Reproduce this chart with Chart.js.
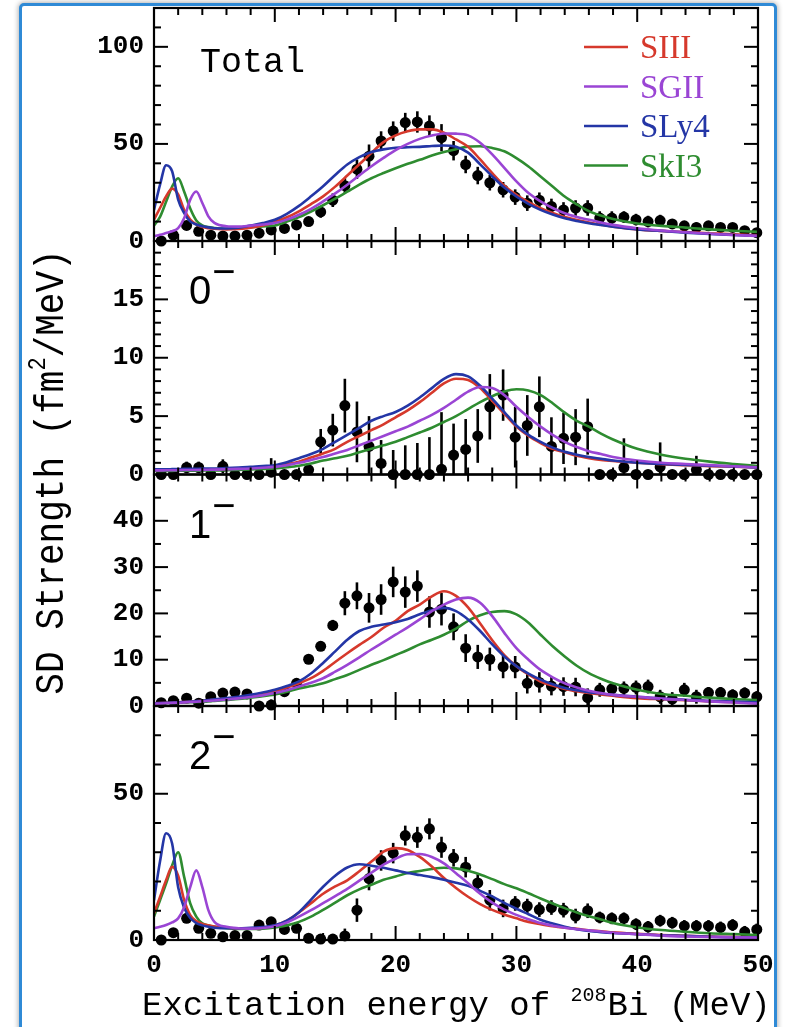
<!DOCTYPE html>
<html><head><meta charset="utf-8">
<script src="https://cdn.jsdelivr.net/npm/chart.js@4.4.1/dist/chart.umd.min.js"></script>
<style>
html,body{margin:0;padding:0;background:#fff;}
#wrap{position:relative;width:785px;height:1027px;overflow:hidden;}
#frame{position:absolute;left:19px;top:3px;width:752px;height:1100px;border:3px solid #2f8ad6;border-radius:5px;box-shadow:0 0 5px 1px rgba(0,0,0,0.3);background:#fff;}
#c{position:absolute;left:0;top:0;}
</style></head><body>
<div id="wrap"><div id="frame"></div><canvas id="c" width="785" height="1027"></canvas></div>
<script>
// ---------- data ----------
const seriesNames = ['SIII', 'SGII', 'SLy4', 'SkI3'];
const seriesColors = ['#d6392c', '#9a45d4', '#2436a6', '#2e8c30'];
const panelLabels = ['Total', '0', '1', '2'];

const xTickLabels = [0, 10, 20, 30, 40, 50];
const totalTickLabels = [0, 50, 100];
const jm0TickLabels = [0, 5, 10, 15];
const jm1TickLabels = [0, 10, 20, 30, 40];
const jm2TickLabels = [0, 50];

// experimental points (excitation energy, MeV)
const energy = [0.6,1.6,2.7,3.7,4.7,5.7,6.7,7.7,8.7,9.7,10.8,11.8,12.8,13.8,14.8,15.8,16.8,17.8,18.8,19.8,20.8,21.8,22.8,23.8,24.8,25.8,26.8,27.8,28.9,29.9,30.9,31.9,32.9,33.9,34.9,35.9,36.9,37.9,38.9,39.9,40.9,41.9,42.9,43.9,44.9,45.9,46.9,47.9,48.9,49.9];

const totalVal = [0,3,8,5,3,2.6,2.6,3,4,5.7, 6.5,8.3,10,15,21,28.5,37,43.7,51.5,56.6, 61,61.3,59.2,53.2,46.5,39.4,33.7,30,26.4,22.6, 19.5,21,17.8,16,17,17,11.8,11.8,12.3,11, 10,10.5,8.8,7.8,7,7.8,7,7,5.3,4.3];
const totalErr = [1,1,1.5,1.5,1.5,1.5,1.5,1.5,1.5,1.5, 1.5,1.5,2,3,3.5,4,5,6,5,5, 5,5.5,5.5,7,5,4.5,4.5,4,4,4, 4,4,4,4,4,4,3.5,3.5,3,3, 3,3,2.5,2.5,2.5,2.5,2,2,2,2];

const jm0Val = [0,0,0.6,0.6,0,0.7,0,0,0,0.2, 0,0,0.4,2.8,3.8,5.9,3.65,2.4,0.95,0, 0,0,0,0.44,1.66,2.15,3.3,5.8,6.8,3.2, 4.2,5.8,2.4,3.1,3.2,4.1,0,0,0.6,0, 0,0.65,0,0,0.4,0,0,0,0,0];
const jm0Err = [0.2,0.2,0.5,0.5,0.3,0.6,0.3,0.3,0.3,1.2, 0.3,0.3,0.5,1.1,1.4,2.3,2.6,2.6,2.0,2.1, 2.5,2.7,3.2,4.9,2.7,2.6,2.3,2.8,2.2,2.6, 2.6,2.6,2.5,2.2,2.4,2.4,0.3,0.3,2.5,0.3, 0.3,2.1,0.3,0.3,1.2,0.3,0.3,0.3,0.3,0.3];

const jm1Val = [0.7,1.15,1.7,0.6,2.0,2.8,3.0,2.6,0,0.2, 3.1,4.9,10.1,12.9,17.4,22.2,23.8,21.2,23,26.8, 24.6,25.9,20.3,20.9,17.1,12.5,10.6,10.1,8.5,8.4, 4.9,5.1,4.3,4.2,4.1,1.8,3.5,3.7,3.8,4.0, 4.2,2.0,1.5,3.5,2.0,2.9,2.9,2.4,2.8,2.0];
const jm1Err = [0.5,0.5,0.5,0.5,0.5,0.5,0.5,0.5,0.5,1.2, 0.6,0.8,1,1,1.2,2.6,2.9,3.2,3.3,3.3, 3.4,3.4,3.4,3.5,2.9,3.0,2.6,2.5,2.5,2.4, 2.2,2.2,2,2,2,2,1.5,1.5,1.5,1.5, 1.5,1.5,1.5,1.5,1.5,1.2,1.2,1.2,1.2,1.2];

const jm2Val = [0,2.5,7.4,4.0,2.3,1.1,1.5,1.5,5.1,6.2, 3.6,4.0,0.6,0.3,0.3,1.4,10.2,21,27.2,29.7, 35.7,35.1,38,31.7,28.1,24.9,19.5,13.6,10.8,12.5, 11.6,10.4,11.1,10.2,8.2,10,7.7,7.4,7.4,5.4, 4.5,6.6,5.9,4.8,4.8,4.8,4.3,5.1,2.8,3.6];
const jm2Err = [1,1,1.5,1,1,1,1,1,1,1, 1,1,1,1,1,2.5,4,4,3.5,3.5, 3.4,3.6,3.6,3.6,3,3.5,3,3.5,3,2.5, 2.5,2.5,2.5,2.5,2.5,2.5,2,2,2,2, 2,2,2,2,2,2,2,2,2,2];

// theory curves, sampled at curveE
const curveE = [0,0.5,1,1.5,2,2.5,3,3.5,4,4.5,5,6,7,8,9,10,11,12,13,14,15,16,17,18,19,20,21,22,23,24,25,26,27,28,29,30,31,32,33,34,35,36,37,38,40,42,44,46,48,50];

const totalSIII = [11,17,23,27,24,16,11,8.5,7.2,6.6,6.3, 6.0,6.2,6.8,8.0,9.8,12.2,15.3,19,23,28,33.7,39.5,45.4,50.9,54.4,56.5,57.5,57.5,55.8,52.3,48.5,42,35,28.5,23.8,20,16.9,14.4,12.3,10.8,9.5,8.4,7.4, 6.0,5.2,4.6,4.0,3.4,2.9];
const totalSGII = [2.4,3.2,4.1,5.0,6.6,11.8,21.3,25.5,19.6,12.7,9.3, 7.6,7.4,7.9,8.5,9.3,11,13.5,16.6,20.4,24.5,29.0,33.8,38.5,42.8,46.8,50,52.6,54.3,55.4,55.3,54.4,50.6,44.6,37.7,30.7,24.7,20.4,17,14.3,12.4,10.9,9.5,8.3, 6.6,5.4,4.5,3.7,3.1,2.6];
const totalSLy4 = [16,29,39,35.9,21.3,14.4,10.1,8.5,7.6,7.0,6.6, 6.4,6.8,8.0,9.2,10.9,14,18.1,23,28.2,34,39.4,43.2,45.8,47.2,48.0,48.3,48.5,48.9,49.2,48.5,45.5,39.5,33.3,27.5,22.9,19.1,16,13.6,11.7,10.3,9.1,8.2,7.4, 6.0,5.2,4.3,3.6,3.1,2.6];
const totalSkI3 = [8.0,12.4,20.2,28,32.3,25.4,16.7,10.6,8.0,7.2,6.7, 6.3,6.5,7.1,7.5,8.0,10,12.3,15.2,18.4,21.8,25.4,29,32.3,35,37.5,39.8,41.8,44,45.8,47.3,48.6,48.8,47.9,46.2,42.7,38.4,33.2,28.1,22.9,18.9,15.4,13.1,11.3, 9.0,7.8,6.9,6.0,5.3,4.7];

const jm0SIII = [0.4,0.4,0.41,0.41,0.42,0.42,0.43,0.43,0.44,0.44,0.45, 0.48,0.52,0.57,0.63,0.7,0.88,1.1,1.45,1.8,2.2,2.8,3.3,3.8,4.3,4.9,5.5,6.2,7.0,7.8,8.2,8.1,7.4,6.3,5.2,4.1,3.3,2.7,2.2,1.9,1.6,1.4,1.25,1.15, 1.0,0.88,0.8,0.72,0.66,0.6];
const jm0SGII = [0.35,0.35,0.36,0.36,0.37,0.38,0.38,0.39,0.4,0.41,0.42, 0.45,0.48,0.52,0.58,0.65,0.8,1.0,1.25,1.5,1.8,2.1,2.5,2.9,3.3,3.7,4.1,4.6,5.1,5.7,6.4,7.1,7.5,7.4,6.8,5.8,4.9,4.1,3.4,2.8,2.35,2.0,1.75,1.5, 1.2,1.0,0.9,0.8,0.7,0.62];
const jm0SLy4 = [0.44,0.45,0.45,0.46,0.47,0.48,0.48,0.49,0.5,0.5,0.5, 0.55,0.6,0.65,0.72,0.8,1.05,1.4,1.75,2.2,2.8,3.4,4.0,4.6,5.0,5.35,5.9,6.6,7.4,8.2,8.6,8.4,7.6,6.5,5.35,4.2,3.4,2.8,2.3,1.95,1.7,1.5,1.35,1.2, 1.0,0.9,0.82,0.75,0.68,0.6];
const jm0SkI3 = [0.3,0.3,0.31,0.31,0.32,0.32,0.33,0.33,0.34,0.34,0.35, 0.37,0.4,0.43,0.47,0.52,0.62,0.75,0.95,1.2,1.4,1.6,1.9,2.2,2.5,2.8,3.2,3.6,4.0,4.5,5.0,5.6,6.2,6.7,7.1,7.3,7.2,6.8,6.1,5.3,4.6,4.1,3.5,3.0, 2.2,1.7,1.35,1.1,0.9,0.72];

const jm1SIII = [0.6,0.65,0.7,0.75,0.8,0.87,0.94,1.02,1.1,1.25,1.4, 1.65,1.9,2.2,2.7,3.2,4.0,4.9,6.0,7.6,9.5,11.4,13.2,14.9,16.9,18.4,20.5,21.9,23.7,24.8,23.8,21.3,17.8,14.2,11.0,8.6,6.8,5.3,4.4,3.7,3.2,2.8,2.5,2.2, 1.7,1.45,1.25,1.0,0.8,0.6];
const jm1SGII = [0.5,0.55,0.6,0.65,0.7,0.78,0.85,0.93,1.0,1.1,1.2, 1.4,1.65,1.95,2.3,2.8,3.4,4.2,5.0,6.0,7.4,8.9,10.5,12.2,13.8,15.4,17.0,18.7,20.5,21.9,23.0,23.4,22.3,19.4,15.8,12.5,10.0,7.8,6.2,4.9,4.0,3.3,2.8,2.4, 2.0,1.6,1.3,1.0,0.75,0.5];
const jm1SLy4 = [0.6,0.65,0.7,0.75,0.8,0.88,0.95,1.05,1.15,1.3,1.45, 1.7,2.0,2.4,2.9,3.5,4.3,5.3,7.0,9.3,11.8,14.3,16.2,17.1,17.6,18.1,18.8,19.8,20.7,21.2,20.5,18.7,16.2,13.3,10.7,8.6,7.0,5.7,4.7,3.9,3.4,3.0,2.7,2.4, 2.0,1.6,1.35,1.1,0.95,0.8];
const jm1SkI3 = [0.5,0.55,0.6,0.65,0.7,0.75,0.8,0.87,0.93,1.0,1.1, 1.3,1.5,1.8,2.1,2.5,3.1,3.8,4.3,4.9,5.8,6.7,7.8,8.9,9.9,11.0,12.1,13.3,14.3,15.4,16.7,18.4,19.6,20.3,20.5,19.8,18.0,15.4,12.9,10.7,8.7,7.1,5.9,4.9, 3.5,2.6,2.2,1.8,1.5,1.3];

const jm2SIII = [9.1,14.7,20.4,25,22,13.6,8.5,6.5,5.5,5.0,4.6, 4.2,4.0,4.0,4.2,5.0,6.6,9.4,12.6,15.8,18.3,20.4,23.5,26.8,30.2,31.4,30.8,28.4,25.1,21.2,17.8,14.8,12.3,10.3,8.7,7.4,6.2,5.4,4.7,4.2,3.8,3.3,3.0,2.6, 2.1,1.7,1.4,1.2,1.0,0.9];
const jm2SGII = [4.0,4.5,5.1,6.0,7.4,11.3,18.1,23.8,18.1,10.2,6.2, 4.5,4.0,3.9,4.1,4.7,6.0,8.0,10.2,12.6,15.0,17.5,20.3,23.0,25.8,27.8,29.3,29.4,28.4,26.2,22.8,19.4,15.8,12.8,10.4,8.6,7.1,5.8,4.9,4.2,3.7,3.3,2.9,2.5, 2.0,1.5,1.2,1.0,0.9,0.8];
const jm2SLy4 = [13.6,26.9,36.5,33,18,11,7.5,5.8,5.0,4.5,4.2, 4.0,4.0,4.2,4.4,5.0,6.6,9.5,13.8,18.2,22,24.8,25.9,25.4,24.7,23.8,22.9,22.2,21.5,20.6,19.6,18.5,16.8,14.9,12.7,10.7,8.8,6.9,5.6,4.5,3.7,3.1,2.7,2.4, 2.0,1.6,1.4,1.1,0.95,0.8];
const jm2SkI3 = [8.0,13.6,19.3,25.5,30,21.5,12.5,8,5.7,5.0,4.5, 4.0,3.8,3.8,3.9,4.3,5.0,6.2,8.0,10.3,12.8,15.3,17.3,18.9,20.6,21.7,22.9,23.6,24.3,24.7,24.5,23.7,22.4,20.8,19.1,17.7,16.0,14.2,12.5,10.9,9.4,8.1,7.0,5.8, 4.3,3.4,2.8,2.3,2.0,1.7];

// ---------- panel setup (top to bottom) ----------
const panels = [
  {id:'yT', name:panelLabels[0], max:120, major:50, minor:10, labels:totalTickLabels, weight:233,   vals:totalVal, errs:totalErr, curves:[totalSIII,totalSGII,totalSLy4,totalSkI3]},
  {id:'y0', name:panelLabels[1], max:20,  major:5,  minor:1,  labels:jm0TickLabels,   weight:233.5, vals:jm0Val,   errs:jm0Err,   curves:[jm0SIII,jm0SGII,jm0SLy4,jm0SkI3]},
  {id:'y1', name:panelLabels[2], max:50,  major:10, minor:5,  labels:jm1TickLabels,   weight:231.5, vals:jm1Val,   errs:jm1Err,   curves:[jm1SIII,jm1SGII,jm1SLy4,jm1SkI3]},
  {id:'y2', name:panelLabels[3], max:80,  major:50, minor:10, labels:jm2TickLabels,   weight:234,   vals:jm2Val,   errs:jm2Err,   curves:[jm2SIII,jm2SGII,jm2SLy4,jm2SkI3]}
];

const monoFam = '"Nimbus Mono PS", "Nimbus Mono L", "Courier New", "FreeMono", "Liberation Mono", monospace';
const tickFont = {family:monoFam, size:26, weight:'bold'};
const drawOrder = [1, 2, 0, 3]; // SGII, SLy4, SIII, SkI3 (first is on top)

const datasets = [];
panels.forEach(p => {
  drawOrder.forEach(s => {
    datasets.push({
      type:'line', label:seriesNames[s],
      data: curveE.map((e,i) => ({x:e, y:p.curves[s][i]})),
      yAxisID:p.id, borderColor:seriesColors[s], borderWidth:2.6,
      pointRadius:0, fill:false, cubicInterpolationMode:'monotone', order:0
    });
  });
  datasets.push({
    type:'line', label:p.name + ' data', showLine:false,
    data: energy.map((e,i) => ({x:e, y:p.vals[i]})),
    errs: p.errs, yAxisID:p.id, pointRadius:5.5, pointBackgroundColor:'#000',
    pointBorderWidth:0, backgroundColor:'#000', borderColor:'#000', order:1, clip:false
  });
});

const scales = {
  x: {type:'linear', min:0, max:50, position:'bottom',
      afterBuildTicks: s => { s.ticks = xTickLabels.map(v => ({value:v})); },
      ticks:{autoSkip:false, maxRotation:0, padding:10, font:tickFont, color:'#000'},
      grid:{display:false, drawTicks:false}, border:{display:false},
      afterFit: s => { s.height = 87; s.paddingLeft = 0; s.paddingRight = 0; }}
};
// declare bottom panel first so the stack places Total on top
[...panels].reverse().forEach(p => {
  scales[p.id] = {
    type:'linear', position:'left', stack:'panels', stackWeight:p.weight, min:0, max:p.max,
    afterBuildTicks: s => { s.ticks = p.labels.map(v => ({value:v})); },
    ticks:{padding:10, autoSkip:false, font:tickFont, color:'#000'},
    grid:{display:false, drawTicks:false}, border:{display:false},
    afterFit: s => { s.width = 154; s.paddingTop = 0; s.paddingBottom = 0; }
  };
});

const errorBars = {
  id:'errorBars',
  beforeDatasetDraw(chart, args) {
    const ds = chart.data.datasets[args.index];
    if (!ds.errs) return;
    const ctx = chart.ctx, xs = chart.scales.x, ys = chart.scales[ds.yAxisID];
    ctx.save();
    ctx.strokeStyle = '#000'; ctx.lineWidth = 2.6;
    ds.data.forEach((pt, i) => {
      const e = ds.errs[i];
      const x = xs.getPixelForValue(pt.x);
      let y1 = ys.getPixelForValue(pt.y - e), y2 = ys.getPixelForValue(pt.y + e);
      y1 = Math.min(y1, ys.bottom); y2 = Math.max(y2, ys.top);
      ctx.beginPath(); ctx.moveTo(x, y1); ctx.lineTo(x, y2); ctx.stroke();
    });
    ctx.restore();
  }
};

function seg(ctx, x1, y1, x2, y2) { ctx.beginPath(); ctx.moveTo(x1, y1); ctx.lineTo(x2, y2); ctx.stroke(); }

const decor = {
  id:'decor',
  afterDatasetsDraw(chart) {
    const ctx = chart.ctx, xs = chart.scales.x;
    const L = xs.left, R = xs.right;
    ctx.save();
    ctx.strokeStyle = '#000';
    panels.forEach(p => {
      const ys = chart.scales[p.id];
      const T = ys.top, B = ys.bottom;
      ctx.lineWidth = 2;
      const nY = Math.round(p.max / p.minor);
      for (let k = 1; k < nY; k++) {
        const v = k * p.minor;
        const y = ys.getPixelForValue(v);
        const major = (v % p.major) === 0;
        const len = major ? 14 : 7;
        seg(ctx, L, y, L + len, y);
        seg(ctx, R, y, R - len, y);
      }
      for (let k = 1; k < 25; k++) {
        const e = k * 2;
        const x = xs.getPixelForValue(e);
        const len = (e % 10 === 0) ? 14 : 7;
        seg(ctx, x, B, x, B - len);
        seg(ctx, x, T, x, T + len);
      }
      ctx.lineWidth = 2.2;
      ctx.strokeRect(L, T, R - L, B - T);
    });
    ctx.restore();
  },
  afterDraw(chart) {
    const ctx = chart.ctx;
    ctx.save();
    ctx.fillStyle = '#000';
    ctx.textBaseline = 'alphabetic';
    ctx.textAlign = 'left';
    // panel labels
    const yT = chart.scales.yT, y0 = chart.scales.y0, y1 = chart.scales.y1, y2 = chart.scales.y2;
    ctx.font = '35px ' + monoFam;
    ctx.fillText(panels[0].name, 200, yT.top + 64);
    [[y0, panels[1].name], [y1, panels[2].name], [y2, panels[3].name]].forEach(([ys, name]) => {
      ctx.font = '40px "Liberation Sans"';
      ctx.fillText(name, 189, ys.top + 63);
      const w = ctx.measureText(name).width;
      ctx.font = '40px "Liberation Sans"';
      ctx.fillText('\u2212', 189 + w + 1, ys.top + 44);
    });
    // legend
    seriesNames.forEach((n, i) => {
      const cy = yT.top + 39 + i * 39.5;
      ctx.strokeStyle = seriesColors[i]; ctx.lineWidth = 2.6;
      seg(ctx, 584, cy, 628, cy);
      ctx.fillStyle = seriesColors[i];
      ctx.font = '33px "Liberation Serif"';
      ctx.fillText(n, 640, cy + 11);
    });
    // x title
    ctx.fillStyle = '#000';
    ctx.font = '34px ' + monoFam;
    const xa = 'Excitation energy of ', xb = 'Bi (MeV)';
    let x0 = 142;
    ctx.fillText(xa, x0, 1015);
    x0 += ctx.measureText(xa).width;
    ctx.font = '20px ' + monoFam;
    ctx.fillText('208', x0, 1001);
    x0 += ctx.measureText('208').width + 1;
    ctx.font = '34px ' + monoFam;
    ctx.fillText(xb, x0, 1015);
    // y title (rotated)
    ctx.translate(63, 472);
    ctx.rotate(-Math.PI / 2);
    ctx.scale(1, 1.15);
    const ya = 'SD Strength (fm', yb = '/MeV)';
    ctx.font = '36px ' + monoFam;
    const wa = ctx.measureText(ya).width, wb = ctx.measureText(yb).width;
    ctx.font = '22px ' + monoFam;
    const ws = ctx.measureText('2').width;
    let s = -(wa + ws + wb) / 2;
    ctx.font = '36px ' + monoFam;
    ctx.fillText(ya, s, 0); s += wa;
    ctx.font = '22px ' + monoFam;
    ctx.fillText('2', s, -16); s += ws;
    ctx.font = '36px ' + monoFam;
    ctx.fillText(yb, s, 0);
    ctx.restore();
  }
};

new Chart(document.getElementById('c'), {
  type:'line',
  data:{datasets},
  options:{
    responsive:false, animation:false, events:[],
    layout:{padding:{left:0, right:27, top:8, bottom:0}},
    plugins:{legend:{display:false}, tooltip:{enabled:false}},
    scales
  },
  plugins:[errorBars, decor]
});
</script></body></html>
